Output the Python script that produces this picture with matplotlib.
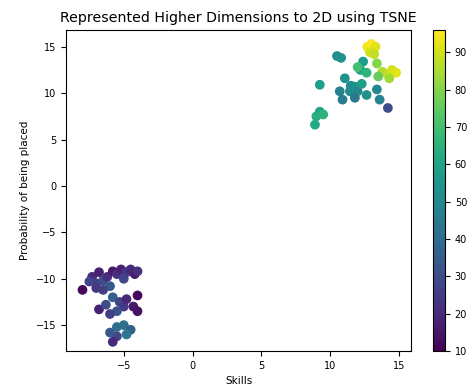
import numpy as np
import matplotlib.pyplot as plt

# t-SNE embedding and the colour value of each point
x_low = [-8.0, -7.3, -7.0, -6.8, -6.5, -6.2, -5.8, -5.5, -5.2, -4.8, -4.5, -4.2,
         -4.0, -5.0, -6.0, -6.5, -7.0, -4.0, -5.8, -5.3, -5.0, -4.8, -5.5, -6.0,
         -6.8, -4.3, -4.0, -5.5, -5.0, -4.5, -4.8, -5.5, -6.0, -5.8, -7.5, -6.3]
y_low = [-11.2, -9.8, -10.5, -9.3, -10.2, -9.8, -9.2, -9.5, -9.0, -9.3, -9.0, -9.5,
         -9.2, -10.0, -10.8, -11.2, -11.0, -11.8, -12.0, -12.5, -13.0, -12.2, -13.5, -13.8,
         -13.3, -13.0, -13.5, -15.2, -15.0, -15.5, -16.0, -16.2, -15.8, -16.8, -10.3, -12.8]
c_low = [12, 20, 26, 18, 30, 22, 16, 22, 18, 24, 20, 16,
         22, 28, 34, 26, 24, 12, 36, 28, 24, 20, 32, 26,
         18, 16, 14, 40, 42, 36, 44, 28, 34, 20, 28, 30]

x_high = [12.7, 13.0, 13.3, 12.9, 13.2, 13.8, 14.2, 14.5, 14.8, 14.3,
          10.5, 10.8, 12.4, 13.4, 12.2, 12.65, 13.5, 13.4, 9.25, 11.07,
          10.7, 11.44, 11.8, 12.0, 10.9, 11.8, 12.65, 13.6, 14.2, 9.25,
          9.0, 8.9, 9.5, 11.5, 12.3, 12.0]
y_high = [15.0, 15.3, 15.0, 14.4, 14.2, 12.3, 12.0, 12.5, 12.2, 11.6,
          14.0, 13.8, 13.4, 13.2, 12.5, 12.2, 11.8, 10.4, 10.9, 11.6,
          10.2, 10.2, 10.7, 10.2, 9.3, 9.5, 9.8, 9.3, 8.4, 8.0,
          7.5, 6.6, 7.7, 10.8, 11.0, 12.8]
c_high = [94, 96, 92, 90, 88, 86, 88, 90, 92, 84,
          52, 54, 58, 80, 60, 66, 76, 50, 58, 54,
          48, 52, 56, 50, 46, 44, 54, 48, 30, 60,
          64, 62, 66, 52, 58, 70]

x = x_low + x_high
y = y_low + y_high
c = c_low + c_high

fig = plt.figure(figsize=(4.73, 3.85), dpi=100)
ax = fig.add_axes([0.1395, 0.088, 0.73, 0.834])
cax = fig.add_axes([0.9154, 0.088, 0.0254, 0.834])

sc = ax.scatter(x, y, c=c, cmap="viridis", vmin=10, vmax=96, s=36)
ax.set_xlim(-9.2, 15.9)
ax.set_ylim(-17.8, 16.8)
ax.set_xticks([-5, 0, 5, 10, 15])
ax.set_yticks([-15, -10, -5, 0, 5, 10, 15])
ax.tick_params(labelsize=7)
ax.set_title("Represented Higher Dimensions to 2D using TSNE", fontsize=10.2)
ax.set_xlabel("Skills", fontsize=7.5)
ax.set_ylabel("Probability of being placed", fontsize=7.5)

cb = fig.colorbar(sc, cax=cax)
cb.set_ticks([10, 20, 30, 40, 50, 60, 70, 80, 90])
cb.ax.tick_params(labelsize=7)

fig.savefig("out.png", dpi=100)
